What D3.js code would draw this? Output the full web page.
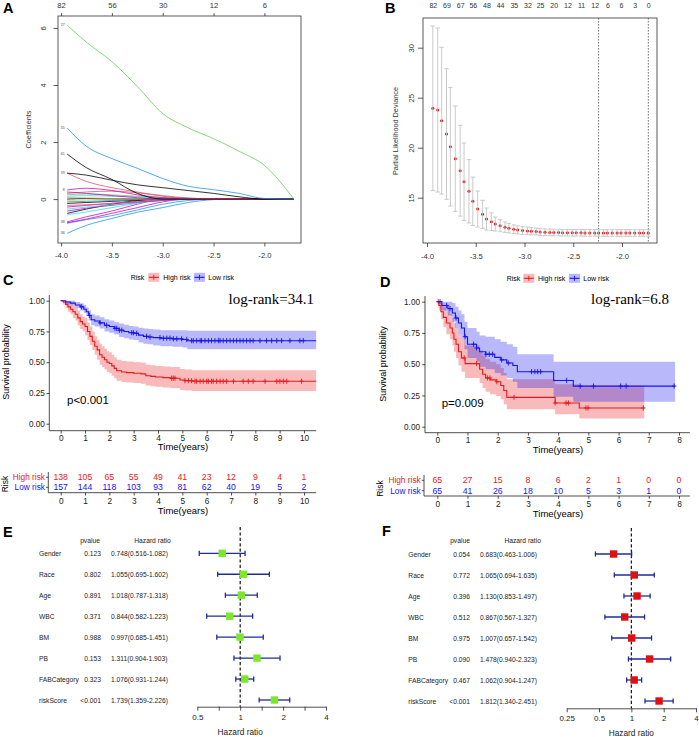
<!DOCTYPE html>
<html><head><meta charset="utf-8">
<script src="https://cdn.jsdelivr.net/npm/d3@7"></script>
<style>body{margin:0;background:#fff}svg{display:block}</style>
</head><body><svg id="fig" width="699" height="737"></svg>
<script>
// ---------------- DATA ----------------
// Panel A: LASSO coefficient paths
const lambdaA = [-3.94,-3.75,-3.5,-3.25,-3.0,-2.75,-2.5,-2.25,-2.0,-1.71];
const coefPaths = [
  [6.1,5.5,4.82,3.95,3.0,2.5,2.12,1.68,1.18,0],
  [2.49,1.85,1.42,1.08,0.72,0.45,0.33,0.2,0.02,0],
  [1.58,1.1,0.69,0.2,0,0,0,0,0,0],
  [0.91,0.84,0.66,0.5,0.4,0.3,0.2,0.08,0,0],
  [0.91,0.62,0.4,0.25,0.1,0.02,0,0,0,0],
  [0.32,0.38,0.3,0.15,0.05,0,0,0,0,0],
  [0.25,0.2,0.12,0.05,0,0,0,0,0,0],
  [0.2,0.25,0.28,0.22,0.12,0.04,0,0,0,0],
  [0.15,0.18,0.15,0.1,0.05,0.02,0,0,0,0],
  [0.1,0.12,0.1,0.08,0.05,0.03,0.01,0,0,0],
  [0.05,0.04,0.02,0,0,0,0,0,0,0],
  [0.0,0.02,0.01,0,0,0,0,0,0,0],
  [-0.05,-0.03,-0.01,0,0,0,0,0,0,0],
  [-0.1,-0.08,-0.05,-0.02,0,0,0,0,0,0],
  [-0.15,-0.12,-0.08,-0.04,0,0,0,0,0,0],
  [-0.22,-0.2,-0.15,-0.08,-0.03,0,0,0,0,0],
  [-0.28,-0.22,-0.15,-0.1,-0.05,0,0,0,0,0],
  [-0.35,-0.28,-0.2,-0.12,-0.05,-0.02,0,0,0,0],
  [-0.42,-0.32,-0.22,-0.12,-0.04,0,0,0,0,0],
  [-0.5,-0.35,-0.18,-0.05,0,0,0,0,0,0],
  [-0.55,-0.45,-0.3,-0.15,-0.05,0,0,0,0,0],
  [-0.8,-0.62,-0.42,-0.18,0,0,0,0,0,0],
  [-0.83,-0.7,-0.5,-0.3,-0.1,0,0,0,0,0],
  [-0.85,-0.72,-0.58,-0.38,-0.18,-0.05,0,0,0,0],
  [-1.2,-0.92,-0.68,-0.46,-0.3,-0.12,-0.02,0,0,0]
];
const pathColors = ["#61D04F","#2297E6","#000000","#000000","#DF536B","#CD0BBC","#CD0BBC","#DF536B","#61D04F","#28E2E5","#9E9E9E","#000000","#F5C710","#2297E6","#000000","#DF536B","#CD0BBC","#28E2E5","#CD0BBC","#000000","#28E2E5","#CD0BBC","#CD0BBC","#2297E6","#2297E6"];
const pathLabels = ["27","55","61","59","","8","","","","","","","","","","","","","","","","38","","","36"];
const topDfAPos = [-4,-3.5,-3,-2.5,-2];
const topDfA = ["82","56","30","12","6"];

// Panel B: cross-validation deviance
const lambdaB = [-3.94,-3.89,-3.85,-3.80,-3.76,-3.71,-3.66,-3.62,-3.57,-3.53,-3.48,-3.43,-3.39,-3.34,-3.30,-3.25,-3.20,-3.16,-3.11,-3.07,-3.02,-2.97,-2.93,-2.88,-2.84,-2.79,-2.74,-2.70,-2.65,-2.61,-2.56,-2.51,-2.47,-2.42,-2.38,-2.33,-2.28,-2.24,-2.19,-2.15,-2.10,-2.05,-2.01,-1.96,-1.92,-1.87,-1.82,-1.78,-1.73];
const devMean = [23.94,23.77,22.7,21.37,20.1,18.9,17.7,16.6,15.64,14.64,13.87,13.34,12.87,12.6,12.37,12.2,12.05,11.95,11.85,11.78,11.72,11.68,11.65,11.62,11.58,11.55,11.53,11.52,11.51,11.5,11.5,11.49,11.49,11.49,11.48,11.48,11.48,11.47,11.47,11.47,11.47,11.47,11.47,11.47,11.47,11.47,11.47,11.47,11.47];
const devSD = [8.23,8.2,7.34,6.53,5.93,5.27,4.54,3.87,3.17,2.42,1.8,1.4,1.1,0.88,0.7,0.6,0.52,0.47,0.43,0.4,0.38,0.37,0.36,0.35,0.35,0.34,0.34,0.34,0.33,0.33,0.33,0.33,0.33,0.33,0.33,0.33,0.33,0.33,0.33,0.33,0.33,0.33,0.33,0.33,0.33,0.33,0.33,0.33,0.33];
const nzeroB = ["82","69","67","56","48","44","35","32","25","20","12","11","12","6","6","3","0"];
const lambdaLines = [-2.24,-1.73];

// Panel C: KM training set
const cHighT = [0,0.1,0.2,0.3,0.4,0.5,0.6,0.7,0.8,0.9,1.0,1.1,1.2,1.3,1.4,1.5,1.6,1.7,1.8,1.9,2.0,2.1,2.2,2.3,2.5,2.7,3.0,3.3,3.5,3.7,3.9,4.2,4.5,4.9,5.1,5.4];
const cHighS = [1,0.99,0.97,0.95,0.93,0.91,0.89,0.86,0.83,0.81,0.79,0.75,0.71,0.67,0.63,0.60,0.56,0.54,0.52,0.50,0.49,0.47,0.45,0.43,0.42,0.415,0.41,0.405,0.39,0.385,0.38,0.375,0.37,0.355,0.35,0.345];
const cHighLo = [1,0.97,0.94,0.91,0.89,0.86,0.84,0.80,0.77,0.75,0.72,0.68,0.64,0.60,0.56,0.52,0.48,0.46,0.44,0.42,0.41,0.39,0.37,0.35,0.34,0.335,0.33,0.325,0.31,0.305,0.30,0.295,0.29,0.275,0.27,0.265];
const cHighHi = [1,1,1,0.99,0.97,0.96,0.94,0.92,0.89,0.87,0.86,0.82,0.79,0.75,0.71,0.68,0.65,0.63,0.61,0.59,0.58,0.56,0.54,0.52,0.51,0.505,0.50,0.495,0.48,0.475,0.47,0.465,0.46,0.445,0.44,0.435];
const cHighCens = [4.56,4.63,4.7,5.11,5.25,5.38,5.52,5.59,5.73,5.86,6.0,6.07,6.2,6.27,6.41,6.55,6.68,6.82,7.1,7.5,7.71,7.91,8.4,8.88,9.01,9.15,9.29,9.9];
const cLowT = [0,0.2,0.4,0.6,0.8,0.95,1.05,1.15,1.25,1.4,1.6,1.8,2.0,2.2,2.4,2.6,2.8,3.0,3.2,3.4,3.6,3.8,4.1,4.6,5.0,5.2];
const cLowS = [1,0.99,0.98,0.965,0.95,0.93,0.91,0.88,0.845,0.835,0.82,0.80,0.79,0.775,0.76,0.75,0.74,0.735,0.72,0.71,0.705,0.70,0.695,0.69,0.685,0.675];
const cLowLo = [1,0.975,0.96,0.94,0.92,0.90,0.875,0.84,0.80,0.79,0.775,0.75,0.74,0.725,0.705,0.695,0.685,0.68,0.66,0.65,0.645,0.635,0.63,0.625,0.62,0.605];
const cLowHi = [1,1,1,0.99,0.98,0.965,0.945,0.92,0.89,0.88,0.865,0.85,0.84,0.825,0.815,0.805,0.795,0.79,0.78,0.775,0.77,0.765,0.76,0.76,0.76,0.755];
const cLowCens = [0.86,1.18,1.62,1.89,2.23,2.30,2.41,2.51,2.92,2.99,3.12,3.53,3.67,4.08,4.22,4.36,4.49,4.63,4.77,4.97,5.18,5.38,5.45,5.59,5.73,5.79,5.93,6.07,6.2,6.34,6.48,6.55,6.68,6.82,6.96,7.1,7.23,7.37,7.5,7.64,7.78,7.91,8.19,8.46,8.67,8.88,9.08,9.42,9.83,9.97];
const cTimes = [0,1,2,3,4,5,6,7,8,9,10];
const cRiskHigh = [138,105,65,55,49,41,23,12,9,4,1];
const cRiskLow = [157,144,118,103,93,81,62,40,19,5,2];

// Panel D: KM validation set
const dHighT = [0,0.05,0.12,0.2,0.3,0.42,0.5,0.55,0.62,0.7,0.8,0.92,1.4,1.5,1.6,1.75,1.95,2.1,2.2,2.3,3.9,4.7];
const dHighS = [1,0.97,0.92,0.875,0.83,0.79,0.75,0.70,0.66,0.60,0.55,0.505,0.46,0.42,0.39,0.375,0.36,0.33,0.29,0.235,0.19,0.15];
const dHighLo = [1,0.93,0.86,0.80,0.74,0.70,0.65,0.60,0.55,0.49,0.44,0.39,0.35,0.31,0.28,0.26,0.245,0.22,0.18,0.14,0.10,0.065];
const dHighHi = [1,1,0.99,0.96,0.93,0.90,0.87,0.83,0.79,0.74,0.70,0.65,0.61,0.57,0.54,0.52,0.50,0.47,0.43,0.38,0.34,0.33];
const dHighCens = [0.03,0.89,1.3,1.66,1.74,1.97,2.54,3.9,4.26,4.34,4.92,4.99,6.82];
const dLowT = [0,0.15,0.35,0.5,0.6,0.7,0.8,0.9,1.0,1.3,1.4,1.6,1.9,2.1,2.3,2.5,2.65,3.85,4.5];
const dLowS = [1,0.97,0.945,0.91,0.87,0.83,0.79,0.72,0.66,0.63,0.60,0.58,0.555,0.535,0.51,0.49,0.44,0.37,0.325];
const dLowLo = [1,0.93,0.89,0.84,0.79,0.74,0.70,0.62,0.55,0.52,0.48,0.46,0.43,0.41,0.39,0.36,0.31,0.24,0.20];
const dLowHi = [1,1,1,0.99,0.96,0.93,0.90,0.84,0.79,0.76,0.73,0.72,0.70,0.68,0.66,0.64,0.58,0.52,0.52];
const dLowCens = [0.09,0.31,0.42,0.62,0.92,1.2,1.3,1.61,1.72,1.83,2.13,2.35,3.12,3.23,3.32,3.42,4.28,4.73,5.17,6.07,6.25,7.84];
const dTimes = [0,1,2,3,4,5,6,7,8];
const dRiskHigh = [65,27,15,8,6,2,1,0,0];
const dRiskLow = [65,41,26,18,10,5,3,1,0];

// Panels E/F: multivariate Cox forest plots
const factors = ["Gender","Race","Age","WBC","BM","PB","FABCategory","riskScore"];
const eP = ["0.123","0.802","0.891","0.371","0.988","0.153","0.323","<0.001"];
const eHR = [0.748,1.055,1.018,0.844,0.997,1.311,1.076,1.739];
const eLo = [0.516,0.695,0.787,0.582,0.685,0.904,0.931,1.359];
const eHi = [1.082,1.602,1.318,1.223,1.451,1.903,1.244,2.226];
const fP = ["0.054","0.772","0.396","0.512","0.975","0.090","0.467","<0.001"];
const fHR = [0.683,1.065,1.130,0.867,1.007,1.478,1.062,1.812];
const fLo = [0.463,0.694,0.853,0.567,0.657,0.940,0.904,1.340];
const fHi = [1.006,1.635,1.497,1.327,1.542,2.323,1.247,2.451];
const eTicks = [0.5,Math.SQRT1_2,1,Math.SQRT2,2,2*Math.SQRT2,4];
const eTickLabels = {"0.5":"0.5","1":"1","2":"2","4":"4"};
const fTicks = [0.25,0.5,1,2,4];

// ---------------- DRAWING ----------------
const SANS = '"Liberation Sans", Arial, Helvetica, sans-serif';
const SERIF = '"Liberation Serif", "Times New Roman", serif';
const svg = d3.select("#fig");
const RED = "#E8191D", BLUE = "#1414F0";

function T(x, y, s, o = {}) {
  const t = svg.append("text").attr("x", x).attr("y", y).text(s)
    .attr("font-family", o.family || SANS).attr("font-size", o.size || 8)
    .attr("fill", o.fill || "#000").attr("text-anchor", o.anchor || "start")
    .attr("dominant-baseline", o.db || "central");
  if (o.weight) t.attr("font-weight", o.weight);
  if (o.rot) t.attr("transform", `rotate(${o.rot},${x},${y})`);
  return t;
}
function styleAxis(ax, size, col) {
  ax.attr("font-family", SANS).attr("font-size", size);
  ax.selectAll("line,path").attr("stroke", col || "#222").attr("stroke-width", 0.8);
  ax.selectAll("text").attr("fill", col || "#222");
}
function rotLabels(ax, off) {
  ax.selectAll(".tick text").attr("x", 0).attr("dy", 0).attr("text-anchor", "middle")
    .attr("transform", `translate(${-off},0) rotate(-90)`);
}
function hline(x1, x2, y, col, w) { svg.append("line").attr("x1", x1).attr("x2", x2).attr("y1", y).attr("y2", y).attr("stroke", col || "#222").attr("stroke-width", w || 0.8); }
function vline(x, y1, y2, col, w, dash) { const l = svg.append("line").attr("x1", x).attr("x2", x).attr("y1", y1).attr("y2", y2).attr("stroke", col || "#222").attr("stroke-width", w || 0.8); if (dash) l.attr("stroke-dasharray", dash); return l; }

// Panel labels
T(3, 13, "A", {size: 14.5, weight: "bold", db: "auto"});
T(385, 13, "B", {size: 14.5, weight: "bold", db: "auto"});
T(3, 285, "C", {size: 14.5, weight: "bold", db: "auto"});
T(380, 287, "D", {size: 14.5, weight: "bold", db: "auto"});
T(3, 537, "E", {size: 14.5, weight: "bold", db: "auto"});
T(382, 536, "F", {size: 14.5, weight: "bold", db: "auto"});

// ---- Panel A ----
{
  const xA = d3.scaleLinear().domain([-4.03, -1.64]).range([58, 301]);
  const yA = d3.scaleLinear().domain([-1.54, 6.42]).range([243, 16]);
  const ln = d3.line().x((d, i) => xA(lambdaA[i])).y(d => yA(d)).curve(d3.curveMonotoneX);
  const g = svg.append("g");
  for (let k = coefPaths.length - 1; k >= 0; k--) {
    g.append("path").attr("d", ln(coefPaths[k])).attr("fill", "none").attr("stroke", pathColors[k]).attr("stroke-width", 0.8);
  }
  coefPaths.forEach((c, k) => { T(xA(lambdaA[0]) - 2.5, yA(c[0]), pathLabels[k] || "", {size: 3.5, anchor: "end", fill: "#444"}); });
  g.append("rect").attr("x", xA.range()[0]).attr("y", yA.range()[1]).attr("width", xA.range()[1] - xA.range()[0]).attr("height", yA.range()[0] - yA.range()[1]).attr("fill", "none").attr("stroke", "#333").attr("stroke-width", 0.8);
  const axB = g.append("g").attr("transform", "translate(0,243)").call(d3.axisBottom(xA).tickValues([-4, -3.5, -3, -2.5, -2]).tickFormat(d => d.toFixed(1)).tickSize(3.5).tickSizeOuter(0).tickPadding(6));
  styleAxis(axB, 7.6, "#333"); axB.select(".domain").remove();
  const axT = g.append("g").attr("transform", "translate(0,16)").call(d3.axisTop(xA).tickValues(topDfAPos).tickFormat((d, i) => topDfA[i]).tickSize(3).tickSizeOuter(0).tickPadding(5.5));
  styleAxis(axT, 7.6, "#333"); axT.select(".domain").remove();
  const axL = g.append("g").attr("transform", "translate(58,0)").call(d3.axisLeft(yA).tickValues([0, 2, 4, 6]).tickSize(4.5).tickSizeOuter(0));
  styleAxis(axL, 7.6, "#333"); axL.select(".domain").remove(); rotLabels(axL, 12);
  T(28.3, 129.5, "Coefficients", {size: 7.3, anchor: "middle", rot: -90, fill: "#333"});
}

// ---- Panel B ----
{
  const xB = d3.scaleLinear().domain([-4.041, -1.641]).range([423, 657]);
  const yB = d3.scaleLinear().domain([10.47, 32.97]).range([243, 18]);
  const g = svg.append("g");
  lambdaLines.forEach(l => vline(xB(l), 18, 243, "#555", 0.8, "1.6,1.4"));
  lambdaB.forEach((l, i) => {
    const x = xB(l), y1 = yB(devMean[i] - devSD[i]), y2 = yB(devMean[i] + devSD[i]);
    vline(x, y1, y2, "#C4C4C4", 0.9);
    hline(x - 2.2, x + 2.2, y1, "#C4C4C4", 0.9);
    hline(x - 2.2, x + 2.2, y2, "#C4C4C4", 0.9);
  });
  g.selectAll("circle").data(lambdaB).enter().append("circle").attr("cx", d => xB(d)).attr("cy", (d, i) => yB(devMean[i])).attr("r", 1.5).attr("fill", "#F00000");
  svg.append("rect").attr("x", 423).attr("y", 18).attr("width", 234).attr("height", 225).attr("fill", "none").attr("stroke", "#333").attr("stroke-width", 0.8);
  const axBt = svg.append("g").attr("transform", "translate(0,243)").call(d3.axisBottom(xB).tickValues([-4, -3.5, -3, -2.5, -2]).tickFormat(d => d.toFixed(1)).tickSize(4).tickSizeOuter(0).tickPadding(6.3));
  styleAxis(axBt, 7.6, "#333"); axBt.select(".domain").remove();
  const topIdx = nzeroB.map((d, i) => lambdaB[i * 3]);
  const axT = svg.append("g").attr("transform", "translate(0,18)").call(d3.axisTop(xB).tickValues(topIdx).tickFormat((d, i) => nzeroB[i]).tickSize(0).tickPadding(10.5));
  styleAxis(axT, 7, "#333"); axT.select(".domain").remove();
  const axL = svg.append("g").attr("transform", "translate(423,0)").call(d3.axisLeft(yB).tickValues([15, 20, 25, 30]).tickSize(5).tickSizeOuter(0));
  styleAxis(axL, 7.6, "#333"); axL.select(".domain").remove(); rotLabels(axL, 8.7);
  T(395, 131, "Partial Likelihood Deviance", {size: 7.3, anchor: "middle", rot: -90, fill: "#333"});
}

// ---- KM helper ----
function stepVal(ts, vs, t) { let v = vs[0]; for (let i = 0; i < ts.length; i++) { if (ts[i] <= t) v = vs[i]; } return v; }
function drawKM(xs, ys, t, s, lo, hi, tEnd, cens, col) {
  const pts = t.map((d, i) => ({t: d, s: s[i], lo: lo[i], hi: hi[i]}));
  pts.push({t: tEnd, s: s[s.length - 1], lo: lo[lo.length - 1], hi: hi[hi.length - 1]});
  const area = d3.area().x(d => xs(d.t)).y0(d => ys(d.lo)).y1(d => ys(d.hi)).curve(d3.curveStepAfter);
  const line = d3.line().x(d => xs(d.t)).y(d => ys(d.s)).curve(d3.curveStepAfter);
  return {
    band: () => svg.append("path").attr("d", area(pts)).attr("fill", col).attr("fill-opacity", 0.3).attr("stroke", "none"),
    line: () => {
      svg.append("path").attr("d", line(pts)).attr("fill", "none").attr("stroke", col).attr("stroke-width", 1.1);
      const p = d3.path();
      cens.forEach(c => { const x = xs(c), y = ys(stepVal(t, s, c)); p.moveTo(x - 2.2, y); p.lineTo(x + 2.2, y); p.moveTo(x, y - 2.6); p.lineTo(x, y + 2.6); });
      svg.append("path").attr("d", p.toString()).attr("stroke", col).attr("stroke-width", 0.9).attr("fill", "none");
    }
  };
}
function legendKey(x, y, col) {
  svg.append("rect").attr("x", x).attr("y", y - 4.5).attr("width", 11).attr("height", 9).attr("fill", col).attr("fill-opacity", 0.3);
  hline(x + 0.5, x + 10.5, y, col, 1.1);
  vline(x + 5.5, y - 2.5, y + 2.5, col, 0.9);
}

// ---- Panel C ----
{
  const xC = d3.scaleLinear().domain([0, 10]).range([60.7, 304]);
  const yC = d3.scaleLinear().domain([0, 1]).range([423.7, 300.7]);
  const hi = drawKM(xC, yC, cHighT, cHighS, cHighLo, cHighHi, 10.5, cHighCens, RED);
  const lo = drawKM(xC, yC, cLowT, cLowS, cLowLo, cLowHi, 10.5, cLowCens, BLUE);
  hi.band(); lo.band(); hi.line(); lo.line();
  const axL = svg.append("g").attr("transform", "translate(49.3,0)").call(d3.axisLeft(yC).tickValues([0, 0.25, 0.5, 0.75, 1]).tickFormat(d3.format(".2f")).tickSize(2.8).tickPadding(1.6));
  styleAxis(axL, 8.2, "#222"); axL.select(".domain").remove();
  vline(49.3, yC(1.046), yC(-0.057), "#222", 0.8);
  const axB = svg.append("g").attr("transform", "translate(0,430.7)").call(d3.axisBottom(xC).tickValues(cTimes).tickSize(2.8).tickPadding(1.2));
  styleAxis(axB, 8.3, "#222"); axB.select(".domain").remove();
  hline(49.3, xC(10.5), 430.7, "#222", 0.8);
  T(183, 446.7, "Time(years)", {size: 9.5, anchor: "middle"});
  T(6, 362, "Survival probability", {size: 9, anchor: "middle", rot: -90});
  T(314, 299, "log-rank=34.1", {size: 15, anchor: "end", family: SERIF});
  T(67, 400, "p<0.001", {size: 11.5});
  // legend
  T(130.7, 277.3, "Risk", {size: 7});
  legendKey(148.3, 277.3, RED); T(163.3, 277.3, "High risk", {size: 7});
  legendKey(194, 277.3, BLUE); T(208.3, 277.3, "Low risk", {size: 7});
  // risk table
  const rowY = [477.3, 487.3];
  T(45, rowY[0], "High risk", {size: 8.3, anchor: "end", fill: RED});
  T(45, rowY[1], "Low risk", {size: 8.3, anchor: "end", fill: BLUE});
  cTimes.forEach((t, i) => {
    T(xC(t), rowY[0], String(cRiskHigh[i]), {size: 8.7, anchor: "middle", fill: RED});
    T(xC(t), rowY[1], String(cRiskLow[i]), {size: 8.7, anchor: "middle", fill: BLUE});
  });
  vline(48.3, 472, 492.7, "#222", 0.8);
  rowY.forEach(y => hline(46, 48.3, y, "#222", 0.8));
  const axR = svg.append("g").attr("transform", "translate(0,492.7)").call(d3.axisBottom(xC).tickValues(cTimes).tickSize(2.8).tickPadding(2.3));
  styleAxis(axR, 8.3, "#222"); axR.select(".domain").remove();
  hline(48.3, xC(10.5), 492.7, "#222", 0.8);
  T(183, 510, "Time(years)", {size: 9.5, anchor: "middle"});
  T(4.5, 484, "Risk", {size: 8.5, anchor: "middle", rot: -90});
}

// ---- Panel D ----
{
  const xD = d3.scaleLinear().domain([0, 8]).range([437.3, 679]);
  const yD = d3.scaleLinear().domain([0, 1]).range([426.7, 301.7]);
  const hi = drawKM(xD, yD, dHighT, dHighS, dHighLo, dHighHi, 6.85, dHighCens, RED);
  const lo = drawKM(xD, yD, dLowT, dLowS, dLowLo, dLowHi, 7.87, dLowCens, BLUE);
  hi.band(); lo.band(); hi.line(); lo.line();
  const axL = svg.append("g").attr("transform", "translate(425,0)").call(d3.axisLeft(yD).tickValues([0, 0.25, 0.5, 0.75, 1]).tickFormat(d3.format(".2f")).tickSize(2.8).tickPadding(2.2));
  styleAxis(axL, 8.2, "#222"); axL.select(".domain").remove();
  vline(425, yD(1.045), yD(-0.048), "#222", 0.8);
  const axB = svg.append("g").attr("transform", "translate(0,432.7)").call(d3.axisBottom(xD).tickValues(dTimes).tickSize(2.8).tickPadding(1.6));
  styleAxis(axB, 8.3, "#222"); axB.select(".domain").remove();
  hline(425, xD(8.36), 432.7, "#222", 0.8);
  T(558, 449, "Time(years)", {size: 9.5, anchor: "middle"});
  T(382.5, 364, "Survival probability", {size: 9, anchor: "middle", rot: -90});
  T(669, 299.3, "log-rank=6.8", {size: 15, anchor: "end", family: SERIF});
  T(441.7, 402.7, "p=0.009", {size: 11.5});
  T(506.7, 278.3, "Risk", {size: 7});
  legendKey(523.3, 278.3, RED); T(538, 278.3, "High risk", {size: 7});
  legendKey(569, 278.3, BLUE); T(583.3, 278.3, "Low risk", {size: 7});
  const rowY = [480.3, 490.7];
  T(420.7, rowY[0], "High risk", {size: 8.3, anchor: "end", fill: RED});
  T(420.7, rowY[1], "Low risk", {size: 8.3, anchor: "end", fill: BLUE});
  dTimes.forEach((t, i) => {
    T(xD(t), rowY[0], String(dRiskHigh[i]), {size: 8.7, anchor: "middle", fill: RED});
    T(xD(t), rowY[1], String(dRiskLow[i]), {size: 8.7, anchor: "middle", fill: BLUE});
  });
  vline(424, 475, 496, "#222", 0.8);
  rowY.forEach(y => hline(421.7, 424, y, "#222", 0.8));
  const axR = svg.append("g").attr("transform", "translate(0,496)").call(d3.axisBottom(xD).tickValues(dTimes).tickSize(2.8).tickPadding(2.2));
  styleAxis(axR, 8.3, "#222"); axR.select(".domain").remove();
  hline(424, xD(8.36), 496, "#222", 0.8);
  T(558, 513.3, "Time(years)", {size: 9.5, anchor: "middle"});
  T(379.5, 488.5, "Risk", {size: 8.5, anchor: "middle", rot: -90});
}

// ---- Forest helper ----
function forest(o) {
  const x = d3.scaleLog().base(2).domain(o.domain).range(o.range);
  const y = d3.scalePoint().domain(factors).range(o.rows);
  vline(x(1), o.dashTop, o.axisY, "#111", 1.2, "3.2,2.2");
  T(o.pvalX, 540.7, "pvalue", {size: 6.7, anchor: "middle", fill: "#222"});
  T(o.hrHeadX, 540.7, "Hazard ratio", {size: 6.7, anchor: "middle", fill: "#222"});
  factors.forEach((f, i) => {
    const yy = y(f);
    T(o.nameX, yy, f, {size: 6.7, fill: "#222"});
    T(o.pX, yy, o.p[i], {size: 6.7, anchor: "end", fill: "#222"});
    T(o.hrX, yy, `${o.hr[i].toFixed(3)}(${o.lo[i].toFixed(3)}-${o.hi[i].toFixed(3)})`, {size: 6.7, fill: "#222"});
    hline(x(o.lo[i]), x(o.hi[i]), yy, "#202C96", 1.3);
    vline(x(o.lo[i]), yy - 2.6, yy + 2.6, "#202C96", 1.3);
    vline(x(o.hi[i]), yy - 2.6, yy + 2.6, "#202C96", 1.3);
    svg.append("rect").attr("x", x(o.hr[i]) - 3.7).attr("y", yy - 3.7).attr("width", 7.4).attr("height", 7.4).attr("fill", o.col);
  });
  const ax = svg.append("g").attr("transform", `translate(0,${o.axisY})`).call(d3.axisBottom(x).tickValues(o.ticks).tickFormat(o.fmt).tickSize(4).tickSizeOuter(0).tickPadding(3.3));
  styleAxis(ax, 8, "#222");
  T(x(1), o.labY, "Hazard ratio", {size: 8.3, anchor: "middle", fill: "#222"});
}
forest({domain: [0.5, 4], range: [197.3, 326], rows: [553.3, 700], dashTop: 527, axisY: 706.7, labY: 732.3,
  pvalX: 90, hrHeadX: 152.5, nameX: 39, pX: 101, hrX: 111, p: eP, hr: eHR, lo: eLo, hi: eHi, col: "#7CE82A",
  ticks: eTicks, fmt: d => eTickLabels[String(d)] || ""});
forest({domain: [0.25, 4], range: [566.7, 696], rows: [554, 701], dashTop: 528, axisY: 708.3, labY: 733.3,
  pvalX: 460, hrHeadX: 522.7, nameX: 408.3, pX: 470, hrX: 480, p: fP, hr: fHR, lo: fLo, hi: fHi, col: "#E01010",
  ticks: fTicks, fmt: d => String(d)});
</script></body></html>
